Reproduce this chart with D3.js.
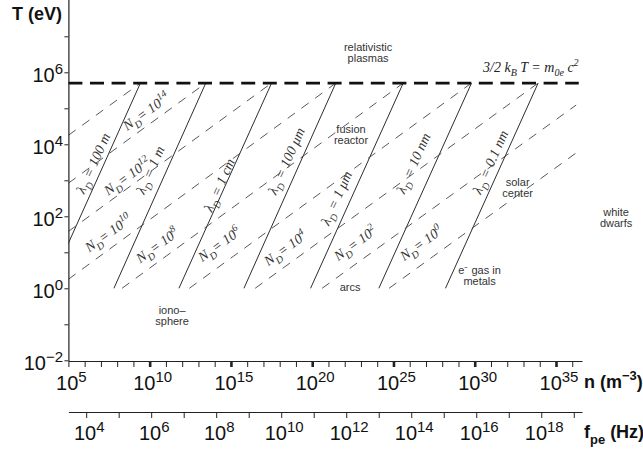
<!DOCTYPE html>
<html><head><meta charset="utf-8">
<script src="https://cdn.jsdelivr.net/npm/d3@7"></script>
<style>body{margin:0;background:#fff}svg{display:block}</style>
</head><body>
<svg id="chart" width="643" height="454"></svg>
<script>
// ---------- data (log10 values) ----------
const nTickExps = [5, 10, 15, 20, 25, 30, 35];          // labelled n ticks
const tTickExps = [-2, 0, 2, 4, 6];                      // labelled T ticks
const fTickExps = [4, 6, 8, 10, 12, 14, 16, 18];         // labelled f_pe ticks
const tRel = 5e5;                                        // 3/2 kT = m0 c^2 line (eV)
const tLow = 1;                                          // lower end of parameter lines
// Debye length lines (solid): log10 n at T = tLow and at T = tRel
const lambdaLabels = ["100 m", "1 m", "1 cm", "100 \u03bcm", "1 \u03bcm", "10 nm", "0.1 nm"];
const lambdaLogNLow = [3.75, 7.8, 11.8, 15.8, 19.9, 24.1, 28.2];
const lambdaLogNHigh = [9.43, 13.45, 17.5, 21.45, 25.6, 29.8, 33.9];
const lambdaLabelLogN = [6.51, 10.02, 14.27, 18.39, 21.47, 26.21, 30.95];
const lambdaLabelLogT = [3.48, 3.29, 2.87, 3.54, 2.51, 3.48, 3.51];
// Plasma parameter lines (dashed): endpoints [log n, log T]
const ndExps = [16, 14, 12, 10, 8, 6, 4, 2, 0];
const ndStart = [[5, 4.25], [5, 2.92], [5, 1.58], [5, 0.25], [8.30, 0], [12.44, 0], [16.49, 0], [20.61, 0], [24.73, 0]];
const ndEnd = [[9.43, 5.7], [13.45, 5.7], [17.5, 5.7], [21.45, 5.7], [25.6, 5.7], [29.8, 5.7], [33.9, 5.7], [36.24, 5.09], [36.24, 3.76]];
const ndLabelExps = [14, 12, 10, 8, 6, 4, 2, 0];
const ndLabelLogN = [9.78, 8.61, 7.44, 10.45, 14.27, 18.33, 22.63, 26.69];
const ndLabelLogT = [4.92, 3.12, 1.54, 1.20, 1.23, 1.12, 1.26, 1.26];
// Region notes: lines, log n, log T (first baseline)
const notes = [
  {lines: ["relativistic", "plasmas"], logN: 23.44, logT: 6.59},
  {lines: ["fusion", "reactor"], logN: 22.39, logT: 4.31},
  {lines: ["iono\u2013", "sphere"], logN: 11.38, logT: -0.71},
  {lines: ["arcs"], logN: 22.33, logT: -0.075},
  {lines: ["e\u207b gas in", "metals"], logN: 30.3, logT: 0.40},
  {lines: ["solar", "center"], logN: 32.64, logT: 2.84},
  {lines: ["white", "dwarfs"], logN: 38.7, logT: 2.01}
];
const relLabelLogN = 30.51, relLabelLogT = 6.01;

// ---------- scales ----------
const svg = d3.select("#chart");
const nMax = Math.pow(10, 36.6);
const x = d3.scaleLog().domain([1e5, nMax]).range([68.4, 582]);
const y = d3.scaleLog().domain([1e-2, 1e8]).range([360.3, 0.3]);
const fpe = n => 8.98 * Math.sqrt(n);
const xf = d3.scaleLog().domain([fpe(1e5), fpe(nMax)]).range([68.4, 582]);
const P = (ln, lt) => [x(Math.pow(10, ln)), y(Math.pow(10, lt))];
const sans = "'Liberation Sans', Arial, Helvetica, sans-serif";
const serif = "'Liberation Serif', 'Times New Roman', serif";

function rich(sel, parts, size) {
  let off = 0;
  parts.forEach(p => {
    const target = p.sub ? 0.32 * size : p.sup ? -0.42 * size : 0;
    sel.append("tspan").attr("dy", (target - off).toFixed(2))
      .attr("font-size", (p.sub || p.sup) ? size * (p.scale || 0.72) : size)
      .text(p.t);
    off = target;
  });
}

// ---------- clip ----------
svg.append("defs").append("clipPath").attr("id", "plotclip").append("rect")
  .attr("x", x(1e5)).attr("y", 0).attr("width", x(nMax) - x(1e5)).attr("height", y(1e-2));
const plot = svg.append("g").attr("clip-path", "url(#plotclip)");

// Debye length lines
const lt0 = Math.log10(tLow), lt1 = Math.log10(tRel);
lambdaLogNLow.forEach((ln, i) => {
  const a = P(ln, lt0), b = P(lambdaLogNHigh[i], lt1);
  plot.append("line").attr("x1", a[0]).attr("y1", a[1]).attr("x2", b[0]).attr("y2", b[1])
    .attr("stroke", "#222").attr("stroke-width", 0.95);
});
// N_D lines
ndStart.forEach((s, i) => {
  const a = P(s[0], s[1]), b = P(ndEnd[i][0], ndEnd[i][1]);
  plot.append("line").attr("x1", a[0]).attr("y1", a[1]).attr("x2", b[0]).attr("y2", b[1])
    .attr("stroke", "#444").attr("stroke-width", 0.9).attr("stroke-dasharray", "9 8");
});
// relativistic line
svg.append("line").attr("x1", x(1e5)).attr("x2", x(Math.pow(10, 36.4)))
  .attr("y1", y(tRel)).attr("y2", y(tRel))
  .attr("stroke", "#111").attr("stroke-width", 2.6).attr("stroke-dasharray", "14 7.6");

// angles
const la = P(lambdaLogNLow[1], lt0), lb = P(lambdaLogNHigh[1], lt1);
const lamAngle = Math.atan2(lb[1] - la[1], lb[0] - la[0]) * 180 / Math.PI;
const na = P(ndStart[7][0], ndStart[7][1]), nb = P(ndEnd[7][0], ndEnd[7][1]);
const ndAngle = Math.atan2(nb[1] - na[1], nb[0] - na[0]) * 180 / Math.PI;

// lambda labels
lambdaLabels.forEach((lab, i) => {
  const p = P(lambdaLabelLogN[i], lambdaLabelLogT[i]);
  const t = svg.append("text").attr("transform", `translate(${p[0]},${p[1]}) rotate(${lamAngle})`)
    .attr("text-anchor", "middle").attr("y", 5).attr("font-family", serif)
    .attr("font-style", "italic").attr("fill", "#333");
  rich(t, [{t: "\u03bb"}, {t: "D", sub: true}, {t: " = " + lab}], 14);
});
// N_D labels
ndLabelExps.forEach((k, i) => {
  const p = P(ndLabelLogN[i], ndLabelLogT[i]);
  const t = svg.append("text").attr("transform", `translate(${p[0]},${p[1]}) rotate(${ndAngle})`)
    .attr("text-anchor", "middle").attr("y", 5).attr("font-family", serif)
    .attr("font-style", "italic").attr("fill", "#333");
  rich(t, [{t: "N"}, {t: "D", sub: true}, {t: "= 10"}, {t: String(k), sup: true}], 14);
});

// relativistic formula
{
  const p = P(relLabelLogN, relLabelLogT);
  const t = svg.append("text").attr("x", p[0]).attr("y", p[1]).attr("font-family", serif)
    .attr("font-style", "italic").attr("fill", "#222");
  rich(t, [{t: "3/2 k"}, {t: "B", sub: true}, {t: " T = m"}, {t: "0e", sub: true}, {t: " c"}, {t: "2", sup: true}], 14);
}

// notes
notes.forEach(nt => {
  const p = P(nt.logN, nt.logT);
  const t = svg.append("text").attr("x", p[0]).attr("y", p[1]).attr("text-anchor", "middle")
    .attr("font-family", sans).attr("font-size", 11).attr("fill", "#333");
  nt.lines.forEach((ln, j) => t.append("tspan").attr("x", p[0]).attr("dy", j ? 11 : 0).text(ln));
});

// ---------- axes ----------
const axCol = "#222";
function styleAxis(g) {
  g.selectAll("path.domain").attr("stroke", axCol).attr("stroke-width", 1.2);
  g.selectAll(".tick line").attr("stroke", axCol).attr("stroke-width", 1);
}
// y axis
const yAx = svg.append("g").attr("transform", `translate(${x(1e5)},0)`)
  .call(d3.axisLeft(y).tickValues(d3.range(-2, 8).map(k => Math.pow(10, k))).tickSize(4).tickSizeOuter(0).tickFormat(""));
yAx.select("path.domain").attr("d", `M0.5,0V${y(1e-2) + 1}`);
styleAxis(yAx);
tTickExps.forEach(k => {
  const t = svg.append("text").attr("x", 63).attr("y", y(Math.pow(10, k)) + 10)
    .attr("text-anchor", "end").attr("font-family", sans).attr("fill", "#111");
  rich(t, [{t: "10"}, {t: k < 0 ? "\u2212" + (-k) : String(k), sup: true, scale: 0.75}], 20);
});
// n axis
const xAxY = 361;
const xAx = svg.append("g").attr("transform", `translate(0,${xAxY})`)
  .call(d3.axisBottom(x).tickValues(d3.range(5, 37).map(k => Math.pow(10, k))).tickSize(6).tickSizeOuter(0).tickFormat(""));
styleAxis(xAx);
xAx.selectAll(".tick line").filter(d => { const k = Math.round(Math.log10(d)); return k % 5 === 0 && k > 5; })
  .attr("stroke-width", 2.6);
nTickExps.forEach(k => {
  const t = svg.append("text").attr("x", x(Math.pow(10, k)) + 3).attr("y", 390)
    .attr("text-anchor", "middle").attr("font-family", sans).attr("fill", "#111");
  rich(t, [{t: "10"}, {t: String(k), sup: true, scale: 0.75}], 20);
});
// f axis
const fAxY = 412;
const fAx = svg.append("g").attr("transform", `translate(0,${fAxY})`)
  .call(d3.axisBottom(xf).tickValues(d3.range(4, 20).map(k => Math.pow(10, k))).tickSize(6).tickSizeOuter(0).tickFormat(""));
styleAxis(fAx);
fTickExps.forEach(k => {
  const t = svg.append("text").attr("x", xf(Math.pow(10, k)) + 3).attr("y", 440)
    .attr("text-anchor", "middle").attr("font-family", sans).attr("fill", "#111");
  rich(t, [{t: "10"}, {t: String(k), sup: true, scale: 0.75}], 20);
});

// axis titles
{
  const t1 = svg.append("text").attr("x", 62).attr("y", 20).attr("text-anchor", "end")
    .attr("font-family", sans).attr("font-weight", "bold").attr("font-size", 18).attr("fill", "#111").text("T (eV)");
  const t2 = svg.append("text").attr("x", 584).attr("y", 388).attr("font-family", sans)
    .attr("font-weight", "bold").attr("fill", "#111");
  rich(t2, [{t: "n (m"}, {t: "\u22123", sup: true}, {t: ")"}], 18);
  const t3 = svg.append("text").attr("x", 584).attr("y", 438).attr("font-family", sans)
    .attr("font-weight", "bold").attr("fill", "#111");
  rich(t3, [{t: "f"}, {t: "pe", sub: true}, {t: " (Hz)"}], 18);
}
</script>
</body></html>
